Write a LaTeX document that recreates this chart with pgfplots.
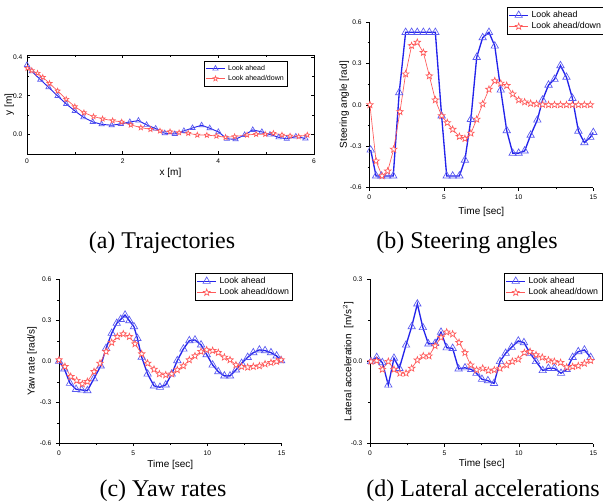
\documentclass[border=0pt]{standalone}
\usepackage{fontspec}
\setmainfont{Liberation Serif}
\newfontfamily\arial{Liberation Sans}
\usepackage{pgfplots}
\pgfplotsset{compat=1.18}
\usepackage{pgfplotstable}

\definecolor{bl}{RGB}{35,35,235}
\definecolor{rd}{RGB}{255,90,90}

% open five-pointed star
\pgfdeclareplotmark{ostar}{%
  \pgfpathmoveto{\pgfpointpolar{90}{\pgfplotmarksize}}%
  \pgfpathlineto{\pgfpointpolar{126}{0.42\pgfplotmarksize}}%
  \pgfpathlineto{\pgfpointpolar{162}{\pgfplotmarksize}}%
  \pgfpathlineto{\pgfpointpolar{198}{0.42\pgfplotmarksize}}%
  \pgfpathlineto{\pgfpointpolar{234}{\pgfplotmarksize}}%
  \pgfpathlineto{\pgfpointpolar{270}{0.42\pgfplotmarksize}}%
  \pgfpathlineto{\pgfpointpolar{306}{\pgfplotmarksize}}%
  \pgfpathlineto{\pgfpointpolar{342}{0.42\pgfplotmarksize}}%
  \pgfpathlineto{\pgfpointpolar{18}{\pgfplotmarksize}}%
  \pgfpathlineto{\pgfpointpolar{54}{0.42\pgfplotmarksize}}%
  \pgfpathclose
  \pgfusepathqfillstroke
}

% (a) trajectories
\pgfplotstableread{
x y
0.00 0.359
0.10 0.326
0.28 0.283
0.45 0.244
0.64 0.199
0.82 0.158
1.00 0.122
1.18 0.089
1.375 0.065
1.56 0.053
1.77 0.048
1.96 0.055
2.15 0.065
2.33 0.072
2.50 0.050
2.69 0.031
2.88 0.007
3.09 0.003
3.28 0.019
3.46 0.034
3.65 0.048
3.82 0.033
4.00 0.014
4.18 -0.022
4.36 -0.024
4.55 -0.002
4.72 0.024
4.91 0.014
5.08 0.000
5.26 -0.014
5.43 -0.022
5.62 -0.010
5.82 -0.020
}\trajA
\pgfplotstableread{
x y
0.01 0.342
0.10 0.330
0.22 0.316
0.33 0.295
0.47 0.264
0.64 0.225
0.82 0.182
1.00 0.144
1.19 0.113
1.39 0.093
1.58 0.081
1.79 0.072
1.98 0.065
2.17 0.050
2.38 0.036
2.58 0.027
2.78 0.019
2.99 0.015
3.18 0.010
3.37 0.007
3.56 -0.002
3.76 -0.003
3.96 -0.007
4.15 -0.014
4.34 -0.010
4.60 -0.002
4.79 0.002
4.98 0.002
5.15 0.007
5.33 -0.002
5.50 -0.007
5.68 -0.010
5.86 -0.002
}\trajB

% (b) steering angles
\pgfplotstableread{
t v
0.09 -0.327
0.45 -0.515
0.80 -0.515
1.20 -0.515
1.60 -0.515
2.00 0.088
2.43 0.525
2.83 0.525
3.21 0.525
3.62 0.525
4.02 0.525
4.42 0.525
4.84 -0.080
5.18 -0.515
5.58 -0.515
6.03 -0.515
6.40 -0.400
6.80 -0.105
7.19 0.344
7.59 0.486
8.01 0.525
8.40 0.426
8.80 0.107
9.20 -0.187
9.60 -0.350
10.00 -0.350
10.40 -0.334
10.80 -0.220
11.25 -0.110
11.60 0.035
12.00 0.143
12.40 0.185
12.80 0.284
13.20 0.200
13.60 0.047
14.00 -0.190
14.40 -0.274
14.80 -0.235
15.00 -0.200
}\steerA
\pgfplotstableread{
t v
0.04 0.000
0.45 -0.407
0.85 -0.515
1.23 -0.480
1.63 -0.322
2.05 -0.050
2.43 0.223
2.83 0.428
3.21 0.452
3.62 0.378
4.02 0.209
4.42 0.035
4.84 -0.080
5.22 -0.130
5.58 -0.178
6.03 -0.230
6.40 -0.245
6.80 -0.206
7.19 -0.105
7.59 0.006
8.01 0.112
8.40 0.173
8.80 0.156
9.20 0.139
9.60 0.078
10.00 0.035
10.40 0.020
10.80 0.010
11.20 0.006
11.60 0.002
12.00 0.000
12.40 0.000
12.80 0.000
13.20 0.000
13.60 0.000
14.00 0.000
14.40 0.000
14.80 0.000
}\steerB

% (c) yaw rates
\pgfplotstableread{
t v
0.00 0.000
0.36 -0.056
0.74 -0.161
1.15 -0.205
1.53 -0.210
1.91 -0.215
2.35 -0.128
2.81 -0.034
3.17 0.095
3.55 0.205
3.89 0.278
4.16 0.307
4.45 0.338
4.74 0.297
5.05 0.253
5.28 0.168
5.57 0.030
5.97 -0.093
6.40 -0.180
6.80 -0.190
7.19 -0.173
7.59 -0.093
7.97 0.005
8.38 0.090
8.78 0.151
9.16 0.156
9.57 0.120
9.95 0.049
10.35 -0.027
10.73 -0.076
11.14 -0.107
11.52 -0.107
11.92 -0.063
12.30 -0.015
12.71 0.029
13.09 0.063
13.50 0.083
13.88 0.078
14.28 0.063
14.66 0.039
14.96 0.005
}\yawA
\pgfplotstableread{
t v
0.00 0.010
0.40 -0.039
0.79 -0.112
1.19 -0.141
1.57 -0.166
1.91 -0.149
2.36 -0.076
2.76 -0.015
3.17 0.071
3.55 0.137
3.93 0.180
4.33 0.200
4.74 0.180
5.12 0.127
5.57 0.054
5.97 -0.015
6.40 -0.059
6.76 -0.093
7.19 -0.100
7.59 -0.093
7.97 -0.063
8.38 -0.034
8.78 0.010
9.16 0.039
9.57 0.071
9.95 0.083
10.35 0.078
10.73 0.063
11.14 0.029
11.52 0.010
11.92 -0.027
12.30 -0.039
12.71 -0.044
13.09 -0.039
13.50 -0.034
13.88 -0.020
14.28 -0.010
14.66 -0.002
14.96 0.010
}\yawB

% (d) lateral accelerations
\pgfplotstableread{
t v
0.07 0.000
0.45 0.015
0.83 -0.004
1.23 -0.086
1.61 0.012
1.97 -0.025
2.42 0.060
2.80 0.127
3.18 0.210
3.55 0.124
3.92 0.064
4.37 0.066
4.77 0.107
5.15 0.050
5.55 0.048
5.95 -0.027
6.38 -0.023
6.80 -0.029
7.15 -0.043
7.52 -0.065
7.92 -0.070
8.33 -0.080
8.73 0.000
9.11 0.030
9.51 0.052
9.96 0.075
10.34 0.069
10.75 0.030
11.15 0.000
11.60 -0.033
11.98 -0.025
12.38 -0.025
12.83 -0.043
13.21 -0.029
13.61 0.015
13.99 0.036
14.40 0.042
14.82 0.015
}\latA
\pgfplotstableread{
t v
0.07 0.000
0.45 0.003
0.83 -0.029
1.23 0.000
1.61 -0.029
2.01 -0.043
2.42 -0.043
2.80 -0.025
3.18 0.005
3.58 0.020
3.96 0.020
4.37 0.057
4.77 0.088
5.15 0.107
5.55 0.100
5.98 0.069
6.38 0.032
6.76 -0.013
7.16 -0.031
7.57 -0.025
7.95 -0.033
8.35 -0.031
8.73 -0.025
9.18 -0.013
9.56 0.000
9.96 0.008
10.37 0.032
10.75 0.036
11.15 0.024
11.57 0.015
11.98 0.005
12.38 0.000
12.80 -0.004
13.21 -0.021
13.61 -0.019
13.99 -0.016
14.40 -0.007
14.82 0.003
}\latB

\pgfplotsset{
  base/.style={
    scale only axis, enlargelimits=false,
    /pgf/number format/assume math mode=true,
    tick label style={font=\arial\fontsize{5}{5.5}\selectfont},
    label style={font=\arial\fontsize{7.5}{8.5}\selectfont},
    every tick/.style={black, line width=0.4pt},
    major tick length=2.2pt, minor tick length=1.3pt,
    axis line style={line width=0.5pt},
    legend style={font=\arial\fontsize{6.6}{7}\selectfont, draw=black, line width=0.4pt,
      inner sep=0.8pt, row sep=-1.8pt, legend cell align=left},
    legend image code/.code={\draw[mark repeat=2,mark phase=2]
      plot coordinates {(0cm,0cm) (0.25cm,0cm) (0.5cm,0cm)};},
  },
  time/.style={
    base, axis lines=left, axis line style={-}, tick align=outside,
    xmin=0, xmax=15, xtick={0,5,10,15}, minor x tick num=1,
    minor y tick num=1,
    yticklabel style={/pgf/number format/.cd, fixed, fixed zerofill, precision=1},
    xlabel={Time [sec]},
  },
  bluel/.style={color=bl, line width=1pt, mark=triangle,
    mark options={solid, fill=white, draw=bl!75, line width=0.5pt}, mark size=3.2pt},
  redl/.style={color=rd, line width=0.5pt, mark=ostar,
    mark options={solid, fill=white, draw=rd, line width=0.5pt}, mark size=2.6pt},
}

\begin{document}
\begin{tikzpicture}
\path[use as bounding box] (0,0) rectangle (452.25pt,377.25pt);

% (a)
\begin{axis}[base, at={(20.25pt,261.75pt)}, anchor=south west,
  width=215.25pt, height=74.25pt,
  xmin=0, xmax=6, ymin=-0.1, ymax=0.41,
  xtick={0,2,4,6}, minor xtick={1,3,5},
  ytick={0,0.2,0.4}, minor ytick={-0.1,0.1,0.3},
  tick align=inside,
  yticklabel style={/pgf/number format/.cd, fixed, fixed zerofill, precision=1},
  xlabel={x [m]}, ylabel={y [m]},
  xlabel style={at={(axis description cs:0.5,-0.195)}, anchor=center},
  ylabel style={at={(axis description cs:-0.062,0.5)}, anchor=center},
  legend style={at={(0.909,0.939)}, anchor=north east, font=\arial\fontsize{5.3}{5.8}\selectfont},
]
\addplot[bluel, line width=0.7pt, mark size=2.3pt] table[x=x,y=y] {\trajA};
\addplot[redl, mark size=2pt] table[x=x,y=y] {\trajB};
\legend{Look ahead, Look ahead/down}
\end{axis}

% (b)
\begin{axis}[time, at={(277pt,236.5pt)}, anchor=south west,
  width=168pt, height=124.3pt,
  ymin=-0.6, ymax=0.6, ytick={-0.6,-0.3,0,0.3,0.6},
  ylabel={Steering angle [rad]},
  xlabel style={at={(axis description cs:0.5,-0.145)}, anchor=center},
  ylabel style={at={(axis description cs:-0.112,0.5)}, anchor=center},
  legend style={at={(1.052,1.09)}, anchor=north east},
]
\addplot[bluel] table[x=t,y=v] {\steerA};
\addplot[redl] table[x=t,y=v] {\steerB};
\legend{Look ahead, Look ahead/down}
\end{axis}

% (c)
\begin{axis}[time, at={(44.25pt,44.8pt)}, anchor=south west,
  width=167pt, height=123pt,
  ymin=-0.6, ymax=0.6, ytick={-0.6,-0.3,0,0.3,0.6},
  ylabel={Yaw rate [rad/s]},
  xlabel style={at={(axis description cs:0.5,-0.132)}, anchor=center},
  ylabel style={at={(axis description cs:-0.121,0.5)}, anchor=center},
  legend style={at={(1.051,1.038)}, anchor=north east},
]
\addplot[bluel] table[x=t,y=v] {\yawA};
\addplot[redl] table[x=t,y=v] {\yawB};
\legend{Look ahead, Look ahead/down}
\end{axis}

% (d)
\begin{axis}[time, at={(277.5pt,44.5pt)}, anchor=south west,
  width=167.5pt, height=123.3pt,
  ymin=-0.3, ymax=0.3, ytick={-0.3,0,0.3},
  ylabel={Lateral acceleration\ \ [m/s$^2$]},
  xlabel style={at={(axis description cs:0.5,-0.125)}, anchor=center},
  ylabel style={at={(axis description cs:-0.097,0.5)}, anchor=center},
  legend style={at={(1.039,1.038)}, anchor=north east},
]
\addplot[bluel] table[x=t,y=v] {\latA};
\addplot[redl] table[x=t,y=v] {\latB};
\legend{Look ahead, Look ahead/down}
\end{axis}

% captions
\begin{scope}[every node/.style={anchor=base, font=\fontsize{18}{20}\selectfont, inner sep=0pt}]
\node at (121.5pt,191pt) {(a) Trajectories};
\node at (350.25pt,191pt) {(b) Steering angles};
\node at (122.25pt,4.7pt) {(c) Yaw rates};
\node at (362.25pt,4.7pt) {(d) Lateral accelerations};
\end{scope}
\end{tikzpicture}
\end{document}
